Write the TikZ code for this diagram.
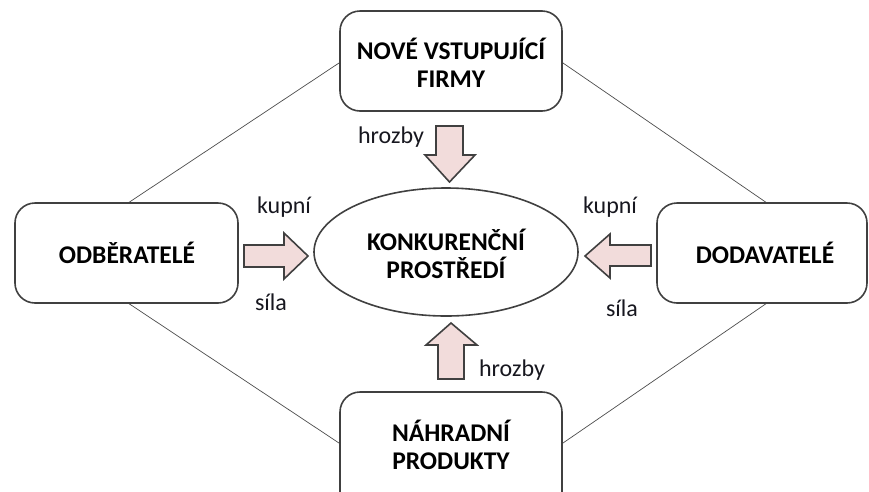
\documentclass[tikz,border=0pt]{standalone}
\usepackage{fontspec}
\setmainfont{Carlito}
\definecolor{arrowfill}{HTML}{F2DCDB}
\definecolor{linegray}{HTML}{404040}
\definecolor{lbltext}{HTML}{17171F}
\begin{document}
\begin{tikzpicture}[x=1pt,y=-1pt,
  box/.style={draw=linegray,line width=1.6pt,rounded corners=20pt,fill=white},
  boxtext/.style={font=\fontsize{25.5}{28}\selectfont\bfseries,align=center,text=black},
  lbl/.style={font=\fontsize{24}{28}\selectfont,text=lbltext},
  link/.style={draw=black!70,line width=0.7pt},
  blockarrow/.style={draw=linegray,line width=1.6pt,fill=arrowfill,line join=miter}]
\useasboundingbox (0,0) rectangle (869,491);
% links
\coordinate (tl) at (339,63);
\coordinate (lt) at (128,203);
\coordinate (tr) at (563,63);
\coordinate (rt) at (767,203);
\coordinate (lb) at (128,303);
\coordinate (bl) at (339,443);
\coordinate (rb) at (767,303);
\coordinate (br) at (563,443);
\draw[link] (tl) -- (lt);
\draw[link] (tr) -- (rt);
\draw[link] (lb) -- (bl);
\draw[link] (rb) -- (br);
% boxes
\draw[box] (340,11) rectangle (562,111);
\node[boxtext] (top) at (451,63) {NOVÉ VSTUPUJÍCÍ\\FIRMY};
\draw[box] (15,203) rectangle (238,303);
\node[boxtext] (left) at (127,253) {ODBĚRATELÉ};
\draw[box] (657,203) rectangle (867,303);
\node[boxtext] (right) at (765,253) {DODAVATELÉ};
\draw[box] (340,392) rectangle (562,520);
\node[boxtext] (bottom) at (451,445) {NÁHRADNÍ\\PRODUKTY};
% ellipse
\draw[draw=linegray,line width=1.6pt] (446,252) ellipse [x radius=132,y radius=64];
\node[boxtext] (center) at (446,254) {KONKURENČNÍ\\PROSTŘEDÍ};
% block arrows
\draw[blockarrow] (436,126) -- (463,126) -- (463,155) -- (475,155) -- (449.5,182) -- (425,155) -- (436,155) -- cycle;
\draw[blockarrow] (438,379) -- (464,379) -- (464,345) -- (477,345) -- (451,323) -- (426,345) -- (438,345) -- cycle;
\draw[blockarrow] (244,245) -- (284,245) -- (284,233) -- (308,256) -- (284,279) -- (284,267) -- (244,267) -- cycle;
\draw[blockarrow] (651,245) -- (610,245) -- (610,234) -- (585,256) -- (610,278) -- (610,266) -- (651,266) -- cycle;
% labels
\node[lbl] (h1) at (391,137) {hrozby};
\node[lbl] (h2) at (512,370) {hrozby};
\node[lbl] (k1) at (284,207) {kupní};
\node[lbl] (k2) at (610,207) {kupní};
\node[lbl] (s1) at (271,302) {síla};
\node[lbl] (s2) at (622,308) {síla};
\end{tikzpicture}
\end{document}
